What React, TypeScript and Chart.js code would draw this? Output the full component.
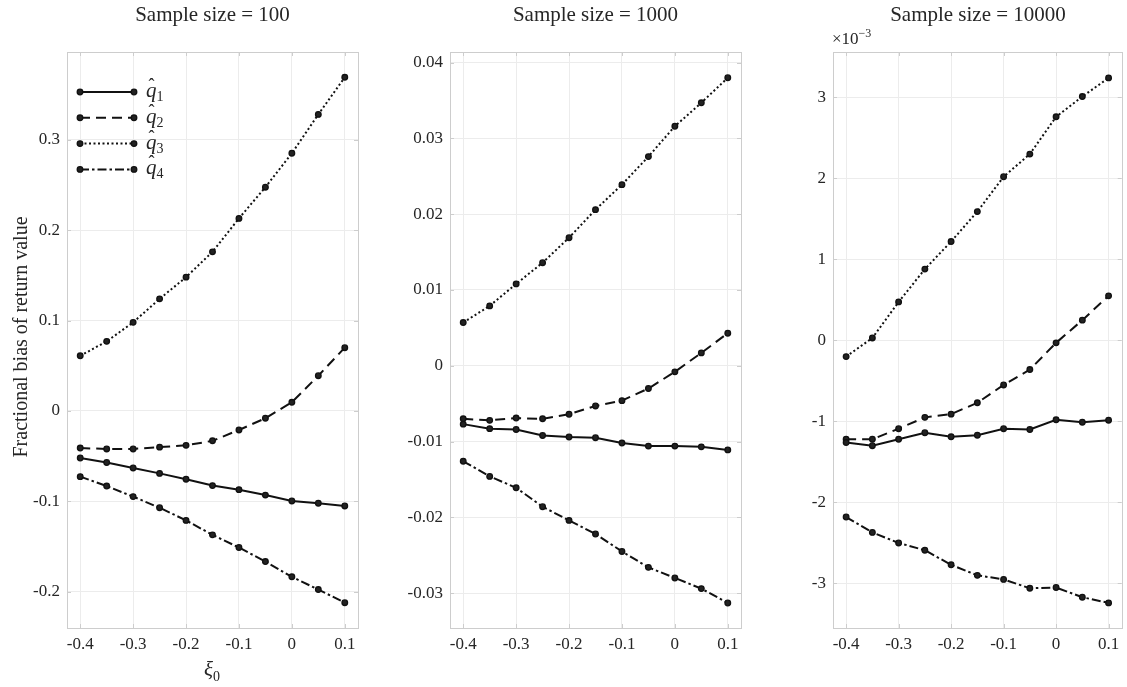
import React, { useEffect, useRef } from "react";
import { Chart, registerables } from "chart.js";

Chart.register(...registerables);

// ---- data ----
const xi0 = [-0.4, -0.35, -0.3, -0.25, -0.2, -0.15, -0.1, -0.05, 0, 0.05, 0.1];
const xTicks = [-0.4, -0.3, -0.2, -0.1, 0, 0.1];
const xTickLabels = ["-0.4", "-0.3", "-0.2", "-0.1", "0", "0.1"];

const titles = ["Sample size = 100", "Sample size = 1000", "Sample size = 10000"];
const seriesNames = ["q1", "q2", "q3", "q4"];

// Sample size = 100
const n100_q1 = [-0.052, -0.057, -0.063, -0.069, -0.0755, -0.0825, -0.087, -0.093, -0.0995, -0.102, -0.105];
const n100_q2 = [-0.041, -0.042, -0.042, -0.04, -0.038, -0.033, -0.021, -0.008, 0.0096, 0.039, 0.07];
const n100_q3 = [0.061, 0.077, 0.098, 0.124, 0.148, 0.176, 0.213, 0.2475, 0.285, 0.328, 0.369];
const n100_q4 = [-0.0726, -0.083, -0.0947, -0.107, -0.121, -0.137, -0.151, -0.1665, -0.1834, -0.1975, -0.212];
const n100_yTicks = [-0.2, -0.1, 0, 0.1, 0.2, 0.3];
const n100_yTickLabels = ["-0.2", "-0.1", "0", "0.1", "0.2", "0.3"];

// Sample size = 1000
const n1000_q1 = [-0.0077, -0.0083, -0.0084, -0.0092, -0.0094, -0.0095, -0.0102, -0.0106, -0.0106, -0.0107, -0.0111];
const n1000_q2 = [-0.007, -0.0072, -0.0069, -0.007, -0.0064, -0.0053, -0.0046, -0.003, -0.0008, 0.0017, 0.0043];
const n1000_q3 = [0.0057, 0.0079, 0.0108, 0.0136, 0.0169, 0.0206, 0.0239, 0.0276, 0.0316, 0.0347, 0.038];
const n1000_q4 = [-0.0126, -0.0146, -0.0161, -0.0186, -0.0204, -0.0222, -0.0245, -0.0266, -0.028, -0.0294, -0.0313];
const n1000_yTicks = [-0.03, -0.02, -0.01, 0, 0.01, 0.02, 0.03, 0.04];
const n1000_yTickLabels = ["-0.03", "-0.02", "-0.01", "0", "0.01", "0.02", "0.03", "0.04"];

// Sample size = 10000 (values in units of 1e-3)
const n10000_q1 = [-1.26, -1.3, -1.22, -1.14, -1.19, -1.17, -1.09, -1.1, -0.98, -1.01, -0.985];
const n10000_q2 = [-1.22, -1.22, -1.09, -0.95, -0.91, -0.77, -0.55, -0.36, -0.03, 0.25, 0.55];
const n10000_q3 = [-0.2, 0.03, 0.475, 0.88, 1.22, 1.59, 2.02, 2.3, 2.76, 3.01, 3.24];
const n10000_q4 = [-2.18, -2.37, -2.5, -2.59, -2.77, -2.9, -2.95, -3.06, -3.05, -3.17, -3.24];
const n10000_yTicks = [-3, -2, -1, 0, 1, 2, 3];
const n10000_yTickLabels = ["-3", "-2", "-1", "0", "1", "2", "3"];

// ---- styles ----
const FONT = "'Liberation Serif', 'DejaVu Serif', serif";
const TEXT = "#262626";
const BOX = "#cdcdcd";
const GRID = "#ececec";
const LINE = "#111111";
const dashes = [[], [10, 6], [2, 2.5], [9, 3, 2.5, 3]];

type Panel = {
  left: number;
  width: number;
  yWidth: number;
  padRight: number;
  yMin: number;
  yMax: number;
  yTicks: number[];
  yTickLabels: string[];
  series: number[][];
  legend: boolean;
};

const panels: Panel[] = [
  { left: 0, width: 370, yWidth: 67, padRight: 12, yMin: -0.24, yMax: 0.397, yTicks: n100_yTicks, yTickLabels: n100_yTickLabels, series: [n100_q1, n100_q2, n100_q3, n100_q4], legend: true },
  { left: 370, width: 380, yWidth: 80, padRight: 9, yMin: -0.0346, yMax: 0.0414, yTicks: n1000_yTicks, yTickLabels: n1000_yTickLabels, series: [n1000_q1, n1000_q2, n1000_q3, n1000_q4], legend: false },
  { left: 760, width: 367, yWidth: 73, padRight: 4, yMin: -3.55, yMax: 3.56, yTicks: n10000_yTicks, yTickLabels: n10000_yTickLabels, series: [n10000_q1, n10000_q2, n10000_q3, n10000_q4], legend: false },
];

const H = 687;
const PLOT_TOP = 52;
const PLOT_BOTTOM = 628;

const boxPlugin = {
  id: "boxPlugin",
  afterDraw(chart: any, _args: any, opts: any) {
    const { ctx, chartArea } = chart;
    const { left, right, top, bottom } = chartArea;
    ctx.save();
    ctx.strokeStyle = BOX;
    ctx.lineWidth = 1;
    ctx.strokeRect(Math.round(left) + 0.5, Math.round(top) + 0.5, Math.round(right - left), Math.round(bottom - top));
    const xs = chart.scales.x;
    const ys = chart.scales.y;
    const tl = 4;
    ctx.beginPath();
    for (const t of xs.ticks) {
      const px = Math.round(xs.getPixelForValue(t.value)) + 0.5;
      ctx.moveTo(px, bottom);
      ctx.lineTo(px, bottom - tl);
      ctx.moveTo(px, top);
      ctx.lineTo(px, top + tl);
    }
    for (const t of ys.ticks) {
      const py = Math.round(ys.getPixelForValue(t.value)) + 0.5;
      ctx.moveTo(left, py);
      ctx.lineTo(left + tl, py);
      ctx.moveTo(right, py);
      ctx.lineTo(right - tl, py);
    }
    ctx.stroke();

    if (opts && opts.legend) {
      const x0 = 80;
      const x1 = 134;
      for (let i = 0; i < 4; i++) {
        const y = 92 + i * 25.8;
        ctx.strokeStyle = LINE;
        ctx.lineWidth = 2;
        ctx.setLineDash(dashes[i]);
        ctx.beginPath();
        ctx.moveTo(x0, y);
        ctx.lineTo(x1, y);
        ctx.stroke();
        ctx.setLineDash([]);
        for (const mx of [x0, x1]) {
          ctx.beginPath();
          ctx.arc(mx, y, 2.8, 0, Math.PI * 2);
          ctx.fillStyle = "#222";
          ctx.fill();
          ctx.lineWidth = 1.3;
          ctx.strokeStyle = LINE;
          ctx.stroke();
        }
        ctx.fillStyle = TEXT;
        ctx.textBaseline = "alphabetic";
        ctx.textAlign = "left";
        ctx.font = `italic 21px ${FONT}`;
        const qx = 146;
        ctx.fillText("q", qx, y + 5);
        ctx.font = `18px ${FONT}`;
        ctx.fillText("\u02C6", qx + 2.5, y - 1);
        ctx.font = `14px ${FONT}`;
        ctx.fillText(String(i + 1), qx + 10.5, y + 9);
      }
    }
    ctx.restore();
  },
};

function PanelChart({ p }: { p: Panel }) {
  const ref = useRef<HTMLCanvasElement | null>(null);
  useEffect(() => {
    if (!ref.current) return;
    const datasets = p.series.map((s, i) => ({
      label: seriesNames[i],
      data: xi0.map((x, j) => ({ x, y: s[j] })),
      borderColor: LINE,
      borderWidth: 2,
      borderDash: dashes[i],
      pointRadius: 2.8,
      pointBorderWidth: 1.3,
      pointBackgroundColor: "#222",
      pointBorderColor: LINE,
      fill: false,
      tension: 0,
    }));
    const chart = new Chart(ref.current, {
      type: "line",
      data: { datasets },
      plugins: [boxPlugin],
      options: {
        animation: false,
        responsive: false,
        maintainAspectRatio: false,
        layout: { padding: { left: 0, right: p.padRight, top: PLOT_TOP, bottom: 0 } },
        plugins: {
          legend: { display: false },
          tooltip: { enabled: false },
          title: { display: false },
          boxPlugin: { legend: p.legend },
        } as any,
        scales: {
          x: {
            type: "linear",
            min: -0.425,
            max: 0.125,
            afterFit(scale: any) {
              scale.height = H - PLOT_BOTTOM;
            },
            afterBuildTicks(scale: any) {
              scale.ticks = xTicks.map((v) => ({ value: v }));
            },
            grid: { color: GRID, lineWidth: 1, drawTicks: false },
            border: { display: false },
            ticks: {
              padding: 6,
              color: TEXT,
              font: { family: FONT, size: 17 },
              maxRotation: 0,
              autoSkip: false,
              callback: (_v: any, i: number) => xTickLabels[i],
            },
          },
          y: {
            type: "linear",
            min: p.yMin,
            max: p.yMax,
            afterFit(scale: any) {
              scale.width = p.yWidth;
            },
            afterBuildTicks(scale: any) {
              scale.ticks = p.yTicks.map((v) => ({ value: v }));
            },
            grid: { color: GRID, lineWidth: 1, drawTicks: false },
            border: { display: false },
            ticks: {
              padding: 7,
              color: TEXT,
              font: { family: FONT, size: 17 },
              autoSkip: false,
              callback: (_v: any, i: number) => p.yTickLabels[i],
            },
          },
        },
      } as any,
    });
    return () => chart.destroy();
  }, [p]);
  return (
    <canvas
      ref={ref}
      width={p.width}
      height={H}
      style={{ position: "absolute", left: p.left, top: 0, width: p.width, height: H }}
    />
  );
}

const titleCenters = [212.5, 595.5, 978];

export default function App() {
  return (
    <div style={{ position: "absolute", left: 0, top: 0, width: 1127, height: H, background: "#fff", overflow: "hidden", fontFamily: FONT, color: TEXT }}>
      {panels.map((p, i) => (
        <PanelChart key={i} p={p} />
      ))}
      {titles.map((t, i) => (
        <div
          key={"t" + i}
          style={{ position: "absolute", left: titleCenters[i] - 150, top: 1, width: 300, textAlign: "center", fontSize: 21, lineHeight: "26px", whiteSpace: "nowrap" }}
        >
          {t}
        </div>
      ))}
      <div
        style={{ position: "absolute", left: 20 - 200, top: 337 - 12, width: 400, height: 24, lineHeight: "24px", textAlign: "center", fontSize: 20, transform: "rotate(-90deg)", whiteSpace: "nowrap" }}
      >
        Fractional bias of return value
      </div>
      <div style={{ position: "absolute", left: 212 - 30, top: 657, width: 60, textAlign: "center", fontSize: 21, lineHeight: "24px" }}>
        <i>ξ</i>
        <span style={{ fontSize: 14, position: "relative", top: 5 }}>0</span>
      </div>
      <div style={{ position: "absolute", left: 832, top: 29, fontSize: 17, lineHeight: "20px", whiteSpace: "nowrap" }}>
        ×10
        <span style={{ fontSize: 12, position: "relative", top: -7 }}>−3</span>
      </div>
    </div>
  );
}
